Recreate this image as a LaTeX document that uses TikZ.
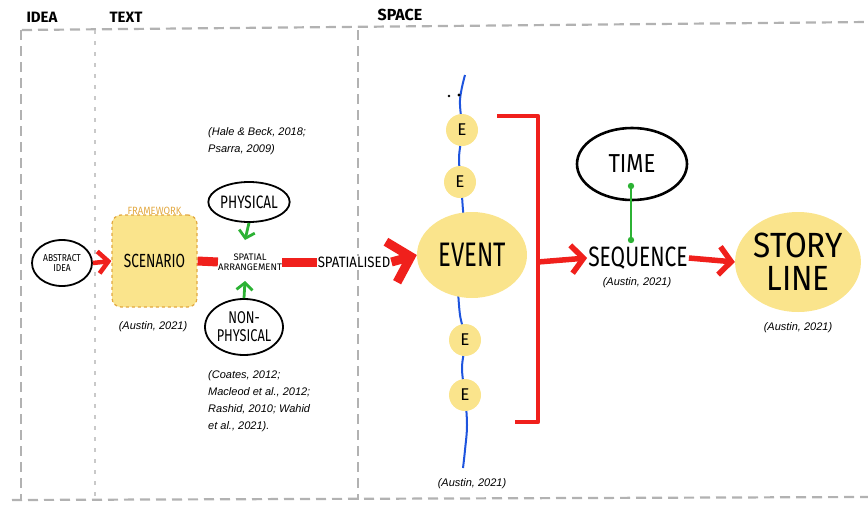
\documentclass[tikz,border=0pt]{standalone}
\usepackage{fontspec}
\setmainfont{Liberation Sans}
\newfontfamily\hand{Fira Sans}
\usetikzlibrary{arrows.meta,shapes.geometric,calc}
\definecolor{yel}{RGB}{250,228,140}
\definecolor{rd}{RGB}{240,32,28}
\definecolor{gr}{RGB}{44,178,52}
\definecolor{bl}{RGB}{30,84,222}
\definecolor{fr}{RGB}{178,178,178}
\definecolor{org}{RGB}{226,168,64}
\newcommand\hsq[2]{\scalebox{#1}[1]{#2}}
\begin{document}
\begin{tikzpicture}[x=1pt,y=-1pt,
  frame/.style={draw=fr, line width=2.2pt, dash pattern=on 10pt off 6pt},
  fine/.style={draw=fr!70, line width=1.4pt, dash pattern=on 4pt off 7pt},
  cite/.style={font=\itshape\fontsize{11}{17}\selectfont, align=left, inner sep=0pt},
  hw/.style={font=\hand, align=center, inner sep=1pt},
  blob/.style={ellipse, draw=black, line width=1.8pt, inner sep=0pt, align=center},
  yblob/.style={ellipse, fill=yel, inner sep=0pt, align=center},
  ecirc/.style={circle, fill=yel, minimum size=32pt, inner sep=0pt, font=\hand\fontsize{17}{17}\selectfont},
  redarrow/.style={draw=rd, line width=4.5pt, -{Straight Barb[length=10pt,width=22pt]}},
  seqarrow/.style={draw=rd, line width=5.5pt, -{Straight Barb[length=12pt,width=28pt]}},
  bigarrow/.style={draw=rd, line width=9pt, -{Straight Barb[length=20pt,width=42pt]}},
  redbar/.style={draw=rd, line width=9pt},
  greenarrow/.style={draw=gr, line width=2.8pt, -{Straight Barb[length=7pt,width=16pt]}},
  bracket/.style={draw=rd, line width=4.5pt, line join=round}
]
\useasboundingbox (0,0) rectangle (868,509);

% frame
\draw[frame] (22,30) -- (868,22);
\draw[frame] (12,500) -- (868,497);
\draw[frame] (21,30) -- (21,500);
\draw[fine] (95,30) -- (95,500);
\draw[frame] (358,30) -- (358,500);

% headers
\node[hw, font=\hand\bfseries\fontsize{15}{15}\selectfont] (hidea) at (42,17) {IDEA};
\node[hw, font=\hand\bfseries\fontsize{15}{15}\selectfont] (htext) at (126,17) {TEXT};
\node[hw, font=\hand\bfseries\fontsize{16}{16}\selectfont] (hspace) at (400,15) {SPACE};

% text column
\node[blob, minimum width=60pt, minimum height=46pt, font=\hand\fontsize{10}{10}\selectfont] (abs) at (62,263) {\hsq{0.85}{ABSTRACT}\\\hsq{0.85}{IDEA}};
\node[draw=org, dashed, line width=1.2pt, fill=yel, rounded corners=9pt, minimum width=85pt, minimum height=92pt, hw, font=\hand\fontsize{19}{19}\selectfont] (scen) at (154.5,261) {\hsq{0.72}{SCENARIO}};
\node[hw, text=org, font=\hand\fontsize{10.5}{10.5}\selectfont, anchor=south] (frm) at ([yshift=-1pt]scen.north) {\hsq{0.9}{FRAMEWORK}};
\node[cite] (c1) at (153,327) {(Austin, 2021)};
\draw[redarrow] (abs.east) -- (scen.west);

% spatial arrangement
\node[hw, font=\hand\fontsize{9.5}{10}\selectfont, inner sep=0pt] (arr) at (250,262) {SPATIAL\\ARRANGEMENT};
\draw[redbar] (scen.east) -- (arr.west);
\node[blob, minimum width=74pt, minimum height=40pt, font=\hand\fontsize{18}{18}\selectfont] (phys) at (249,202) {\hsq{0.75}{PHYSICAL}};
\node[blob, minimum width=78pt, minimum height=56pt, font=\hand\fontsize{17}{18}\selectfont] (nphys) at (244,327) {\hsq{0.75}{NON-}\\\hsq{0.75}{PHYSICAL}};
\coordinate (ga1) at (245,240);
\coordinate (ga2) at (245,281);
\draw[greenarrow] (phys.south) -- (ga1);
\draw[greenarrow] (nphys.north) -- (ga2);
\node[cite, anchor=north west] (c2) at (208,127) {(Hale \& Beck, 2018;\\Psarra, 2009)};
\node[cite, anchor=north west] (c3) at (208,370) {(Coates, 2012;\\Macleod et al., 2012;\\Rashid, 2010; Wahid\\et al., 2021).};

% spatialised
\node[hw, font=\hand\fontsize{15}{15}\selectfont, inner sep=1pt, fill=white] (spat) at (354,262) {\hsq{0.88}{SPATIALISED}};
\draw[redbar] (arr.east) -- (spat.west);

% events
\draw[bl, line width=2pt] plot[smooth, tension=0.6] coordinates {(465,75) (460,100) (462,130) (459,158) (461,182) (463,210) (465,230)};
\draw[bl, line width=2pt] plot[smooth, tension=0.6] coordinates {(458,290) (460,315) (465,340) (462,368) (465,395) (467,425) (465,450) (463,468)};
\node[yblob, minimum width=110pt, minimum height=86pt, font=\hand\fontsize{34}{34}\selectfont] (event) at (472,255) {\hsq{0.7}{EVENT}};
\node[ecirc] (e1) at (462,130) {E};
\node[ecirc] (e2) at (460,182) {E};
\node[ecirc] (e3) at (465,340) {E};
\node[ecirc] (e4) at (465,395) {E};
\fill (449,96) circle (1.3pt);
\fill (459,95) circle (1.6pt);
\draw[bigarrow] (spat.east) -- (event.west);
\node[cite] (c4) at (472,484) {(Austin, 2021)};

% bracket
\coordinate (bt1) at (497,116);
\coordinate (bt2) at (538,116);
\coordinate (bb2) at (538,422);
\coordinate (bb1) at (515,422);
\coordinate (bm) at (538,262);
\draw[bracket] (bt1) -- (bt2) -- (bb2) -- (bb1);

% sequence
\node[hw, font=\hand\fontsize{28}{28}\selectfont] (seq) at (638,258) {\hsq{0.75}{SEQUENCE}};
\draw[seqarrow] (bm) -- (seq.west);
\node[cite] (c5) at (637,283) {(Austin, 2021)};
\node[blob, minimum width=110pt, minimum height=72pt, line width=2.6pt, font=\hand\fontsize{26}{26}\selectfont] (time) at (632,164) {\hsq{0.85}{TIME}};
\coordinate (td) at (631,186);
\coordinate (sd) at (631,240);
\draw[gr, line width=2.6pt] (td) -- (sd);
\fill[gr] (td) circle (3.2pt);
\fill[gr] (sd) circle (3.2pt);

% story line
\node[yblob, minimum width=110pt, minimum height=100pt, font=\hand\fontsize{35}{33}\selectfont] (story) at (798,262) {\hsq{0.9}{STORY}\\\hsq{0.9}{LINE}};
\draw[seqarrow] (seq.east) -- (story.west);
\node[cite] (c6) at (798,328) {(Austin, 2021)};
\end{tikzpicture}
\end{document}
